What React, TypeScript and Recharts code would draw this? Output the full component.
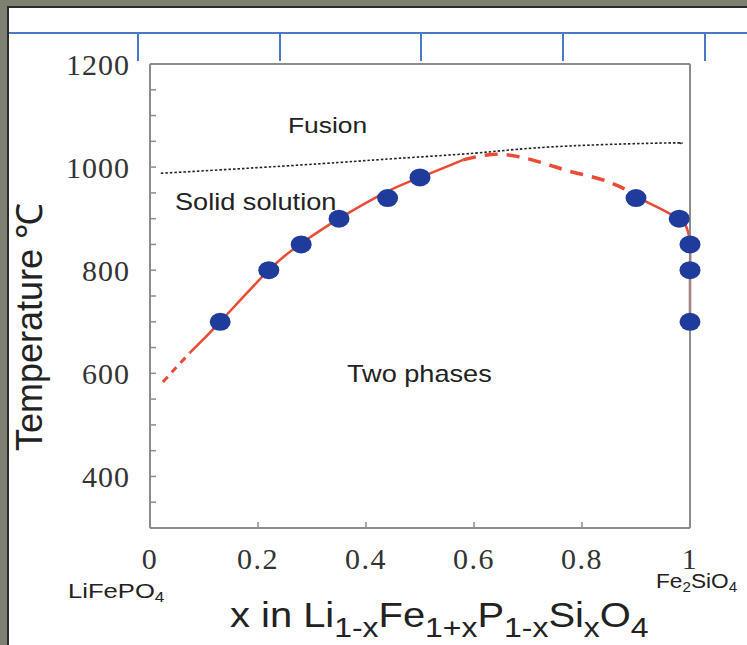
import React from "react";
import { ComposedChart, Line, Scatter, XAxis, YAxis } from "recharts";

// axis ticks
const xTicks = [0, 0.2, 0.4, 0.6, 0.8, 1];
const yTicks = [300, 350, 400, 450, 500, 550, 600, 650, 700, 750, 800, 850, 900, 950, 1000, 1050, 1100, 1150, 1200];
const yLabelTicks = [400, 600, 800, 1000, 1200];

// measured points (blue dots)
const measured = [
  { x: 0.13, t: 700 },
  { x: 0.22, t: 800 },
  { x: 0.28, t: 850 },
  { x: 0.35, t: 900 },
  { x: 0.44, t: 940 },
  { x: 0.5, t: 980 },
  { x: 0.9, t: 940 },
  { x: 0.98, t: 900 },
  { x: 1.0, t: 850 },
  { x: 1.0, t: 800 },
  { x: 1.0, t: 700 },
];

// fusion boundary (dotted)
const fusion = [
  { x: 0.02, t: 988 },
  { x: 0.2, t: 999 },
  { x: 0.35, t: 1009 },
  { x: 0.46, t: 1017 },
  { x: 0.6, t: 1027 },
  { x: 0.71, t: 1037 },
  { x: 0.85, t: 1044 },
  { x: 0.97, t: 1047 },
  { x: 0.98, t: 1046 },
];

// solubility limit, split by dashed/solid parts
const limitLeftDashed = [
  { x: 0.024, t: 583 },
  { x: 0.05, t: 613 },
  { x: 0.074, t: 640 },
];
const limitLeft = [
  { x: 0.074, t: 640 },
  { x: 0.13, t: 700 },
  { x: 0.22, t: 800 },
  { x: 0.28, t: 852 },
  { x: 0.35, t: 900 },
  { x: 0.44, t: 953 },
  { x: 0.5, t: 980 },
  { x: 0.58, t: 1014 },
];
const limitTopDashed = [
  { x: 0.58, t: 1014 },
  { x: 0.62, t: 1023 },
  { x: 0.66, t: 1024 },
  { x: 0.7, t: 1016 },
  { x: 0.74, t: 1004 },
  { x: 0.78, t: 991 },
  { x: 0.83, t: 978 },
  { x: 0.87, t: 962 },
  { x: 0.89, t: 951 },
];
const limitRight = [
  { x: 0.89, t: 951 },
  { x: 0.9, t: 943 },
  { x: 0.944, t: 920 },
  { x: 0.98, t: 899 },
  { x: 0.994, t: 882 },
  { x: 1.0, t: 850 },
  { x: 1.0, t: 800 },
  { x: 1.0, t: 700 },
];

const RED = "#ea4b35";
const AXIS = "#8c8c8c";
const SERIF = "'Liberation Serif', 'Times New Roman', serif";
const SANS = "'Liberation Sans', Arial, sans-serif";

const YTick = (props: any) => {
  const { x, y, payload } = props;
  if (!yLabelTicks.includes(payload.value)) return <g />;
  return (
    <text x={x} y={y} dy="0.36em" textAnchor="end" fontFamily={SERIF} fontSize={30} letterSpacing={1} fill="#333">
      {payload.value}
    </text>
  );
};

const XTick = (props: any) => {
  const { x, y, payload } = props;
  return (
    <text x={x} y={y} dy="0.69em" textAnchor="middle" fontFamily={SERIF} fontSize={30} letterSpacing={1.5} fill="#333">
      {String(payload.value)}
    </text>
  );
};

const Dot = (props: any) => {
  const { cx, cy } = props;
  return <ellipse cx={cx} cy={cy} rx={10.5} ry={9} fill="#1f3b9c" />;
};

export default function App() {
  const blueTicks = [138, 280, 421, 563, 705];
  return (
    <div style={{ position: "absolute", left: 0, top: 0, width: 747, height: 645, overflow: "hidden", background: "#7e8171" }}>
      <div style={{ position: "absolute", left: 7, top: 6, right: -20, bottom: -20, background: "#fff", border: "2px solid #2b2b2b" }} />
      <div style={{ position: "absolute", left: 9, top: 32, width: 760, height: 2, background: "#4a78c8" }} />
      {blueTicks.map((bx) => (
        <div key={bx} style={{ position: "absolute", left: bx - 1, top: 33, width: 2, height: 28, background: "#4a78c8" }} />
      ))}
      <div style={{ position: "absolute", left: 0, top: 0 }}>
        <ComposedChart width={747} height={645} margin={{ top: 63, right: 56, bottom: 77, left: 70 }}>
          <XAxis
            xAxisId="b"
            dataKey="x"
            type="number"
            domain={[0, 1]}
            ticks={xTicks}
            height={40}
            axisLine={{ stroke: AXIS, strokeWidth: 2 }}
            tickLine={{ stroke: AXIS, strokeWidth: 1.5 }}
            tickSize={-6}
            tickMargin={26}
            tick={<XTick />}
            interval={0}
          />
          <XAxis
            xAxisId="t"
            orientation="top"
            dataKey="x"
            type="number"
            domain={[0, 1]}
            ticks={xTicks}
            height={1}
            axisLine={{ stroke: AXIS, strokeWidth: 2 }}
            tickLine={{ stroke: AXIS, strokeWidth: 1.5 }}
            tickSize={-6}
            tick={false}
            interval={0}
          />
          <YAxis
            yAxisId="l"
            dataKey="t"
            type="number"
            domain={[300, 1200]}
            ticks={yTicks}
            width={80}
            axisLine={{ stroke: AXIS, strokeWidth: 2 }}
            tickLine={{ stroke: AXIS, strokeWidth: 1.5 }}
            tickSize={-6}
            tickMargin={26}
            tick={<YTick />}
            interval={0}
          />
          <YAxis
            yAxisId="r"
            orientation="right"
            type="number"
            domain={[300, 1200]}
            ticks={yTicks}
            width={1}
            axisLine={{ stroke: AXIS, strokeWidth: 2 }}
            tickLine={{ stroke: AXIS, strokeWidth: 1.5 }}
            tickSize={-6}
            tick={false}
            interval={0}
          />
          <Line xAxisId="b" yAxisId="l" data={fusion} dataKey="t" type="natural" stroke="#222" strokeWidth={1.6} strokeDasharray="2.5 2" dot={false} isAnimationActive={false} />
          <Line xAxisId="b" yAxisId="l" data={limitLeftDashed} dataKey="t" type="natural" stroke={RED} strokeWidth={3} strokeDasharray="7 6" dot={false} isAnimationActive={false} />
          <Line xAxisId="b" yAxisId="l" data={limitLeft} dataKey="t" type="natural" stroke={RED} strokeWidth={2.5} dot={false} isAnimationActive={false} />
          <Line xAxisId="b" yAxisId="l" data={limitTopDashed} dataKey="t" type="natural" stroke={RED} strokeWidth={3.5} strokeDasharray="13 9" dot={false} isAnimationActive={false} />
          <Line xAxisId="b" yAxisId="l" data={limitRight} dataKey="t" type="natural" stroke={RED} strokeWidth={2.5} dot={false} isAnimationActive={false} />
          <Scatter xAxisId="b" yAxisId="l" data={measured} dataKey="t" shape={<Dot />} isAnimationActive={false} />
        </ComposedChart>
      </div>
      <svg width={747} height={645} style={{ position: "absolute", left: 0, top: 0, pointerEvents: "none" }}>
        <g fontFamily={SANS} fill="#222">
          <text transform="translate(288,133) scale(1.2,1)" fontSize={22}>Fusion</text>
          <text transform="translate(175,210) scale(1.18,1)" fontSize={23}>Solid solution</text>
          <text transform="translate(347,382) scale(1.18,1)" fontSize={23}>Two phases</text>
          <text transform="translate(42,327) rotate(-90)" textAnchor="middle" fontSize={36}>Temperature ℃</text>
          <text transform="translate(230,627) scale(1.14,1)" fontSize={35}>
            x in Li
            <tspan fontSize={28} dy={10}>1-x</tspan>
            <tspan dy={-10}>Fe</tspan>
            <tspan fontSize={28} dy={10}>1+x</tspan>
            <tspan dy={-10}>P</tspan>
            <tspan fontSize={28} dy={10}>1-x</tspan>
            <tspan dy={-10}>Si</tspan>
            <tspan fontSize={28} dy={10}>x</tspan>
            <tspan dy={-10}>O</tspan>
            <tspan fontSize={28} dy={10}>4</tspan>
          </text>
          <text transform="translate(68,598) scale(1.22,1)" fontSize={21}>
            LiFePO
            <tspan fontSize={14} dy={4}>4</tspan>
          </text>
          <text transform="translate(656,588) scale(1.08,1)" fontSize={21}>
            Fe
            <tspan fontSize={14} dy={4}>2</tspan>
            <tspan dy={-4}>SiO</tspan>
            <tspan fontSize={14} dy={4}>4</tspan>
          </text>
        </g>
      </svg>
    </div>
  );
}
